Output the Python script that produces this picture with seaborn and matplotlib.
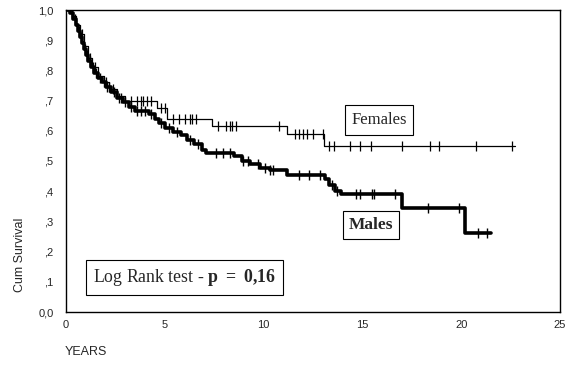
import numpy as np
import pandas as pd
import matplotlib
matplotlib.use("Agg")
import matplotlib.pyplot as plt
import seaborn as sns

# ---- data ----
male_times = [0, 0.2, 0.35, 0.5, 0.6, 0.7, 0.8, 0.9, 1.0, 1.1, 1.25, 1.4, 1.6, 1.8, 2.0,
              2.3, 2.6, 2.9, 3.2, 3.5, 4.2, 4.5, 4.7, 5.0, 5.4, 5.8, 6.1, 6.5, 6.9, 7.1,
              8.5, 8.9, 9.3, 9.8, 10.3, 11.2, 13.1, 13.3, 13.6, 13.9, 17.0, 20.2, 21.5]
male_surv = [1.0, 0.99, 0.97, 0.95, 0.93, 0.91, 0.89, 0.87, 0.85, 0.83, 0.81, 0.79, 0.775,
             0.76, 0.745, 0.73, 0.71, 0.695, 0.68, 0.665, 0.655, 0.64, 0.625, 0.61, 0.595,
             0.585, 0.57, 0.555, 0.535, 0.525, 0.515, 0.50, 0.49, 0.477, 0.47, 0.455, 0.44,
             0.42, 0.40, 0.39, 0.345, 0.26, 0.26]
male_censor = [0.3, 0.45, 0.65, 0.75, 0.95, 1.05, 1.2, 1.35, 1.5, 1.7, 1.9, 2.1, 2.2, 2.45,
               2.7, 2.8, 3.0, 3.3, 3.6, 3.8, 4.0, 4.3, 4.8, 5.2, 5.6, 6.3, 6.7, 7.6, 7.95,
               8.3, 8.95, 9.2, 9.7, 10.05, 10.3, 10.5, 11.8, 12.3, 12.85, 13.45, 13.7,
               14.7, 14.9, 15.5, 15.6, 16.65, 18.3, 19.9, 20.85, 21.3]

female_times = [0, 0.3, 0.5, 0.7, 0.9, 1.1, 1.3, 1.6, 1.9, 2.2, 2.6, 3.0, 4.6, 5.1, 7.4,
                11.2, 13.05, 22.7]
female_surv = [1.0, 0.98, 0.95, 0.92, 0.88, 0.84, 0.81, 0.78, 0.76, 0.74, 0.715, 0.70,
               0.675, 0.64, 0.615, 0.59, 0.55, 0.55]
female_censor = [0.8, 1.2, 1.45, 2.0, 2.4, 3.3, 3.6, 3.8, 3.9, 4.1, 4.3, 4.8, 5.0, 5.4,
                 5.7, 6.0, 6.3, 6.4, 6.6, 7.7, 8.1, 8.3, 8.4, 8.6, 10.8, 11.6, 11.8, 12.0,
                 12.2, 12.5, 13.0, 13.32, 13.58, 14.37, 14.88, 15.42, 16.99, 18.42, 18.86,
                 20.73, 22.59]

x_ticks = [0, 5, 10, 15, 20, 25]
y_ticks = [0.0, 0.1, 0.2, 0.3, 0.4, 0.5, 0.6, 0.7, 0.8, 0.9, 1.0]
y_ticklabels = ["0,0", ",1", ",2", ",3", ",4", ",5", ",6", ",7", ",8", ",9", "1,0"]


def step_value(times, surv, t):
    idx = np.searchsorted(np.asarray(times), t, side="right") - 1
    return np.asarray(surv)[idx]


curves = pd.concat([
    pd.DataFrame({"t": male_times, "S": male_surv, "sex": "Males"}),
    pd.DataFrame({"t": female_times, "S": female_surv, "sex": "Females"}),
])
cens = pd.concat([
    pd.DataFrame({"t": male_censor, "S": step_value(male_times, male_surv, male_censor),
                  "sex": "Males"}),
    pd.DataFrame({"t": female_censor, "S": step_value(female_times, female_surv, female_censor),
                  "sex": "Females"}),
])

sns.set_style("white")
plt.rcParams["font.family"] = ["Liberation Sans", "DejaVu Sans"]
plt.rcParams["mathtext.fontset"] = "custom"
plt.rcParams["mathtext.bf"] = "Liberation Serif:bold"
plt.rcParams["mathtext.rm"] = "Liberation Serif"

fig = plt.figure(figsize=(5.73, 3.68), dpi=100)
ax = fig.add_axes([66 / 573, 1 - 312 / 368, (560 - 66) / 573, (312 - 10) / 368])

for sex, lw, msize, mew in [("Females", 0.9, 7, 0.9), ("Males", 2.6, 7, 1.0)]:
    d = curves[curves.sex == sex]
    sns.lineplot(data=d, x="t", y="S", ax=ax, color="black", linewidth=lw,
                 drawstyle="steps-post", estimator=None, sort=False, legend=False)
    c = cens[cens.sex == sex]
    sns.scatterplot(data=c, x="t", y="S", ax=ax, marker="|", s=msize ** 2,
                    color="black", linewidth=mew, legend=False)

ax.set_xlim(0, 25)
ax.set_ylim(0, 1.0)
ax.set_xticks(x_ticks)
ax.set_xticklabels([str(v) for v in x_ticks])
ax.set_yticks(y_ticks)
ax.set_yticklabels(y_ticklabels)
ax.tick_params(direction="out", length=3, width=1.8, labelsize=8, color="black")
ax.tick_params(axis="y", pad=6)
ax.tick_params(axis="x", pad=3)
for s in ax.spines.values():
    s.set_visible(True)
    s.set_color("black")
    s.set_linewidth(1.0)
ax.set_xlabel("")
ax.set_ylabel("")

fig.text(20 / 573, 1 - 255 / 368, "Cum Survival", rotation=90, ha="center", va="center",
         fontsize=9)
fig.text(65 / 573, 1 - 352 / 368, "YEARS", ha="left", va="center", fontsize=9)

box = dict(boxstyle="square,pad=0.4", facecolor="white", edgecolor="black", linewidth=0.8)
ax.text(15.84, 0.636, "Females", ha="center", va="center", fontsize=12,
        family="Liberation Serif", bbox=box)
boxm = dict(boxstyle="square,pad=0.35", facecolor="white", edgecolor="black", linewidth=0.8)
ax.text(15.43, 0.288, "Males", ha="center", va="center", fontsize=12.5, fontweight="bold",
        family="Liberation Serif", bbox=boxm)
box2 = dict(boxstyle="square,pad=0.4", facecolor="white", edgecolor="black", linewidth=0.8)
ax.text(6.0, 0.114, r"Log Rank test - $\mathbf{p}$ $\mathbf{=}$ $\mathbf{0{,}16}$",
        ha="center", va="center", fontsize=12.8, family="Liberation Serif", bbox=box2)

fig.savefig("out.png", dpi=100)
